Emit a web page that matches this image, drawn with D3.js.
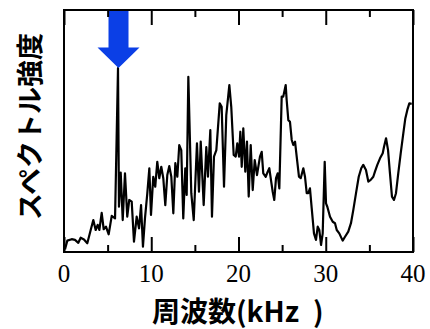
<!DOCTYPE html>
<html>
<head>
<meta charset="utf-8">
<script src="https://cdn.jsdelivr.net/npm/d3@7"></script>
<style>
  html, body { margin: 0; padding: 0; background: #fff; }
  svg { display: block; }
  .tick-label { font-family: "Liberation Serif", "Times New Roman", "DejaVu Serif", serif; font-size: 25px; }
</style>
</head>
<body>
<svg id="chart" width="430" height="329"></svg>
<script>
// 周波数 (kHz) とスペクトル強度 (任意単位, 0-100)
const freq = [
  0.11, 0.38, 0.88, 1.26, 1.64, 1.91, 2.29, 2.67, 3.06, 3.36,
  3.63, 3.86, 4.05, 4.32, 4.55, 4.81, 5.12, 5.47, 5.85, 6.19,
  6.30, 6.50, 6.73, 6.99, 7.25, 7.48, 7.76, 8.02, 8.33, 8.60,
  8.83, 9.05, 9.28, 9.55, 9.78, 9.97, 10.23, 10.46, 10.69, 10.92,
  11.15, 11.38, 11.61, 11.84, 12.07, 12.30, 12.53, 12.76, 12.99, 13.21,
  13.44, 13.67, 13.90, 14.06, 14.25, 14.59, 14.87, 15.24, 15.47, 15.67,
  16.01, 16.31, 16.50, 16.77, 16.96, 17.19, 17.46, 17.85, 18.07, 18.34,
  18.60, 18.95, 19.17, 19.45, 19.68, 19.86, 20.06, 20.21, 20.37, 20.55,
  20.78, 20.97, 21.17, 21.40, 21.63, 21.86, 22.12, 22.46, 22.66, 22.84,
  23.12, 23.35, 23.53, 23.72, 23.92, 24.10, 24.30, 24.49, 24.68, 24.95,
  25.13, 25.41, 25.52, 25.71, 25.90, 26.10, 26.28, 26.48, 26.67, 26.93,
  27.13, 27.43, 27.62, 27.82, 28.00, 28.19, 28.39, 28.65, 28.88, 29.08,
  29.26, 29.46, 29.65, 29.88, 30.03, 30.18, 30.49, 30.80, 31.06, 31.26,
  31.55, 31.94, 32.21, 32.58, 32.89, 33.16, 33.47, 33.78, 34.07, 34.30,
  34.61, 34.88, 35.15, 35.45, 35.64, 35.91, 36.22, 36.53, 36.68, 36.91,
  37.14, 37.36, 37.59, 37.82, 38.05, 38.31, 38.59, 38.89, 39.12, 39.35,
  39.58, 39.85
];
const intensity = [
  1.1, 4.7, 5.3, 5.0, 3.8, 5.9, 5.2, 3.6, 9.1, 13.2,
  9.1, 11.2, 9.1, 16.2, 9.4, 10.5, 7.3, 14.9, 13.9, 76.0,
  18.7, 32.8, 13.2, 32.5, 14.6, 21.5, 20.8, 4.3, 14.6, 9.8,
  19.4, 2.2, 13.9, 24.3, 34.6, 15.3, 31.1, 27.0, 37.3, 30.5,
  35.2, 30.5, 19.4, 31.8, 35.5, 31.1, 16.0, 36.7, 31.1, 44.2,
  42.1, 13.9, 34.6, 23.6, 72.4, 24.3, 13.2, 44.9, 24.9, 45.6,
  19.4, 43.3, 31.1, 50.4, 14.6, 39.4, 42.1, 61.4, 60.0, 27.0,
  56.6, 69.0, 60.0, 40.1, 39.4, 44.9, 39.4, 49.7, 35.2, 51.1,
  33.2, 45.6, 22.9, 44.2, 25.6, 38.0, 31.8, 39.4, 41.4, 32.5,
  31.1, 33.2, 34.6, 29.8, 24.9, 21.5, 30.5, 32.5, 26.3, 64.2,
  64.2, 69.0, 62.8, 54.5, 53.8, 46.3, 44.2, 45.6, 39.4, 31.1,
  30.5, 34.6, 31.1, 24.3, 24.3, 26.3, 18.1, 7.7, 5.0, 10.5,
  9.1, 2.9, 7.7, 37.3, 20.1, 18.7, 14.6, 12.5, 11.9, 9.1,
  7.7, 4.7, 6.3, 8.4, 11.9, 17.4, 24.3, 31.1, 34.6, 36.0,
  33.9, 29.1, 29.8, 31.1, 33.2, 36.0, 38.7, 40.8, 43.5, 47.0,
  42.1, 32.5, 22.9, 21.5, 24.3, 32.5, 40.8, 49.0, 55.2, 58.7,
  61.4, 61.2
];
const majorTicks = [0, 10, 20, 30, 40];
const minorTicks = [5, 15, 25, 35];
const peakFreq = 6.19;   // 矢印で示すピーク
const xLabel = "周波数(kHz\u2002)";
const yLabel = "スペクトル強度";

const svg = d3.select("#chart");
const m = { left: 64, right: 413, top: 10, bottom: 252 };
const gothic = "'Noto Sans CJK JP', 'Noto Sans CJK SC', sans-serif";

const x = d3.scaleLinear().domain([0, 40]).range([m.left, m.right]);
const y = d3.scaleLinear().domain([0, 100]).range([m.bottom, m.top]);

const data = freq.map((f, i) => ({ f, v: intensity[i] }));

// スペクトル
svg.append("path")
  .datum(data)
  .attr("fill", "none")
  .attr("stroke", "#000")
  .attr("stroke-width", 2.2)
  .attr("stroke-linejoin", "round")
  .attr("d", d3.line().x(d => x(d.f)).y(d => y(d.v)));

// 矢印
const peak = data.find(d => d.f === peakFreq);
const tx = x(peak.f) + 0.5, ty = y(peak.v);
const shaftW = 10, headW = 21, headH = 20.5;
svg.append("polygon")
  .attr("fill", "#0b3fe6")
  .attr("points", [
    [tx - shaftW, m.top + 1], [tx + shaftW, m.top + 1], [tx + shaftW, ty - headH],
    [tx + headW, ty - headH], [tx, ty], [tx - headW, ty - headH], [tx - shaftW, ty - headH]
  ].map(p => p.join(",")).join(" "));

// 目盛り（内向き、上下とも）
svg.append("g")
  .attr("transform", `translate(0,${m.bottom})`)
  .call(d3.axisBottom(x).tickValues(majorTicks).tickSize(-15).tickFormat(""));
svg.append("g")
  .attr("transform", `translate(0,${m.bottom})`)
  .call(d3.axisBottom(x).tickValues(minorTicks).tickSize(-7).tickFormat(""));
svg.append("g")
  .attr("transform", `translate(0,${m.top})`)
  .call(d3.axisTop(x).tickValues(majorTicks).tickSize(-15).tickFormat(""));
svg.append("g")
  .attr("transform", `translate(0,${m.top})`)
  .call(d3.axisTop(x).tickValues(minorTicks).tickSize(-7).tickFormat(""));

svg.selectAll(".domain").remove();
svg.selectAll(".tick line").attr("stroke", "#000").attr("stroke-width", 2);

// 目盛りラベル
svg.append("g")
  .selectAll("text")
  .data(majorTicks)
  .enter()
  .append("text")
  .attr("class", "tick-label")
  .attr("x", d => x(d))
  .attr("y", 282)
  .attr("text-anchor", "middle")
  .attr("fill", "#000")
  .text(d => d);

// 枠
svg.append("rect")
  .attr("x", m.left).attr("y", m.top)
  .attr("width", m.right - m.left).attr("height", m.bottom - m.top)
  .attr("fill", "none")
  .attr("stroke", "#000")
  .attr("stroke-width", 2);

// 軸ラベル
svg.append("text")
  .attr("x", 152).attr("y", 322)
  .attr("font-family", gothic)
  .attr("font-weight", "bold")
  .attr("font-size", 28)
  .text(xLabel);

svg.append("text")
  .attr("transform", `translate(40,${(30 + 223) / 2}) rotate(-90)`)
  .attr("text-anchor", "middle")
  .attr("font-family", gothic)
  .attr("font-weight", "bold")
  .attr("font-size", 27)
  .text(yLabel);
</script>
</body>
</html>
